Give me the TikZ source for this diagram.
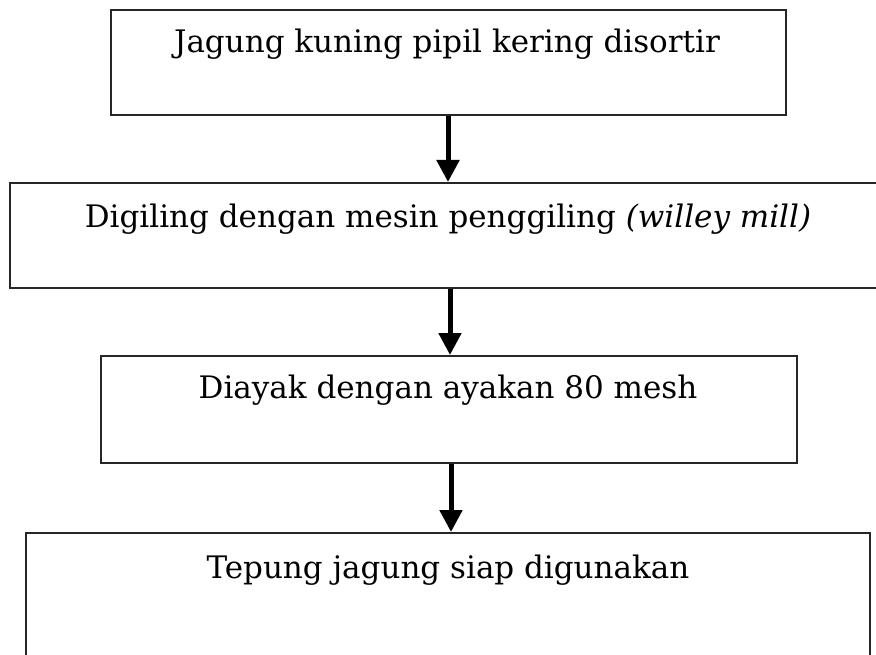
\documentclass[tikz,border=0pt]{standalone}
\usepackage{fontspec}
\setmainfont{DejaVu Serif}
\usetikzlibrary{arrows.meta}
\begin{document}
\begin{tikzpicture}[x=1pt,y=-1pt,
  stepbox/.style={draw=black!85,line width=2pt,minimum width=#1,inner sep=0pt},
  lbl/.style={anchor=base,inner sep=0pt,font=\fontsize{31}{36}\selectfont},
  flow/.style={line width=5pt,-{Triangle[width=22pt,length=22pt]}}]
\useasboundingbox (0,0) rectangle (876,655);
\node[stepbox=675pt,minimum height=105pt] (b1) at (448.5,62.5) {};
\node[stepbox=880pt,minimum height=105pt] (b2) at (450,235.5) {};
\node[stepbox=696pt,minimum height=107pt] (b3) at (449,409.5) {};
\node[stepbox=844pt,minimum height=167pt] (b4) at (448,616.5) {};
\node[lbl] (t1) at (447,53) {Jagung kuning pipil kering disortir};
\node[lbl] (t2) at (448,228) {Digiling dengan mesin penggiling \textit{(willey mill)}};
\node[lbl] (t3) at (448,398) {Diayak dengan ayakan 80 mesh};
\node[lbl] (t4) at (448,578) {Tepung jagung siap digunakan};
\draw[flow] (b1.south -| 448,0) -- (b2.north -| 448,0);
\draw[flow] (b2.south -| 450,0) -- (b3.north -| 450,0);
\draw[flow] (b3.south -| 451,0) -- (b4.north -| 451,0);
\end{tikzpicture}
\end{document}
